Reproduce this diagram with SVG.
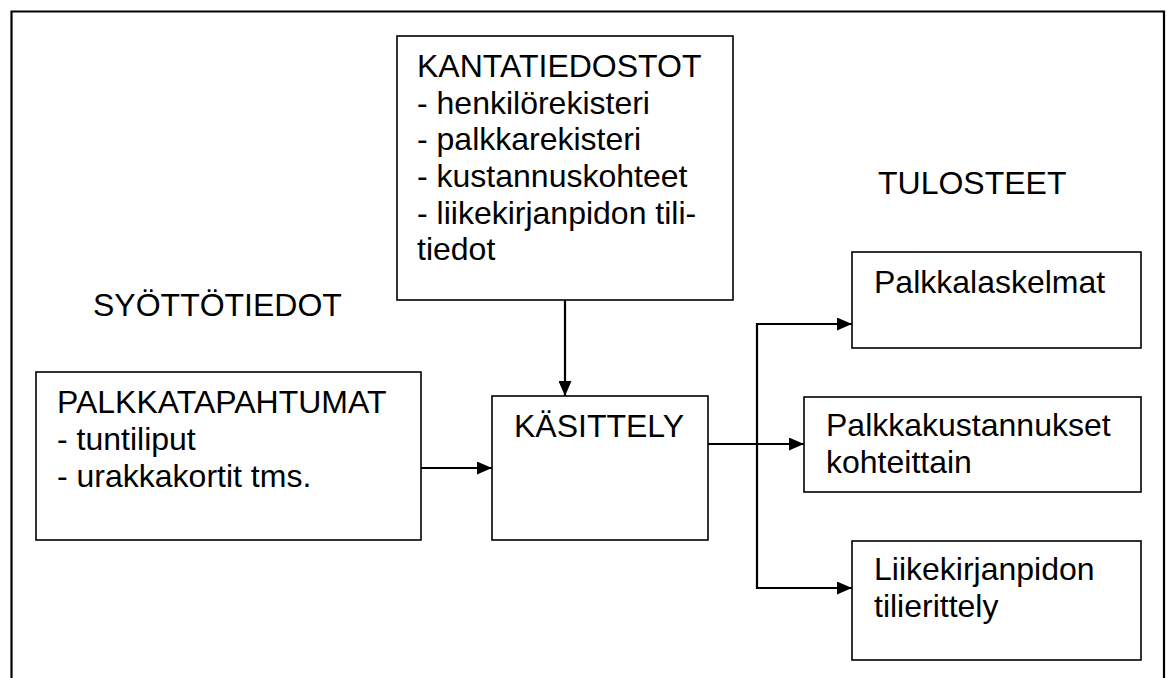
<svg xmlns="http://www.w3.org/2000/svg" width="1168" height="678" viewBox="0 0 1168 678">
<style>
.box{fill:#fff;stroke:#000;stroke-width:1.6}
.frame{fill:none;stroke:#000;stroke-width:2.2}
.t{font-family:"Liberation Sans",Arial,sans-serif;font-size:32px;fill:#000}
.c{fill:none;stroke:#000;stroke-width:2.2}
</style>
<defs>
<marker id="ah" viewBox="0 0 15 13" refX="15" refY="6.5" markerWidth="15" markerHeight="13" markerUnits="userSpaceOnUse" orient="auto">
<path d="M0,0 L15,6.5 L0,13 Z" fill="#000"/>
</marker>
</defs>
<rect width="1168" height="678" fill="#fff"/>
<path class="frame" d="M11.5,680 V11.5 H1164 V680"/>
<text class="t" x="93" y="316">SYÖTTÖTIEDOT</text>
<text class="t" x="878" y="194">TULOSTEET</text>
<g id="kantatiedostot">
<rect class="box" x="397" y="36" width="336" height="264"/>
<text class="t" x="417" y="77">KANTATIEDOSTOT</text>
<text class="t" x="417" y="113.7">- henkilörekisteri</text>
<text class="t" x="417" y="150.4">- palkkarekisteri</text>
<text class="t" x="417" y="187">- kustannuskohteet</text>
<text class="t" x="417" y="223.7">- liikekirjanpidon tili-</text>
<text class="t" x="417" y="260.4">tiedot</text>
</g>
<g id="palkkatapahtumat">
<rect class="box" x="36" y="372" width="385" height="168"/>
<text class="t" x="57" y="413">PALKKATAPAHTUMAT</text>
<text class="t" x="57" y="450">- tuntiliput</text>
<text class="t" x="57" y="487">- urakkakortit tms.</text>
</g>
<g id="kasittely">
<rect class="box" x="492" y="396" width="216" height="144"/>
<text class="t" x="514" y="437">KÄSITTELY</text>
</g>
<g id="palkkalaskelmat">
<rect class="box" x="852" y="252" width="289" height="96"/>
<text class="t" x="874" y="293">Palkkalaskelmat</text>
</g>
<g id="palkkakustannukset">
<rect class="box" x="804" y="397" width="337" height="95"/>
<text class="t" x="826" y="436">Palkkakustannukset</text>
<text class="t" x="826" y="473">kohteittain</text>
</g>
<g id="liikekirjanpidon">
<rect class="box" x="852" y="541" width="289" height="119"/>
<text class="t" x="874" y="580">Liikekirjanpidon</text>
<text class="t" x="874" y="617">tilierittely</text>
</g>
<g id="connectors">
<path class="c" d="M565,300 V396" marker-end="url(#ah)"/>
<path class="c" d="M421,468 H492" marker-end="url(#ah)"/>
<path class="c" d="M708,444 H804" marker-end="url(#ah)"/>
<path class="c" d="M852,324 H757 V588 H852" marker-end="url(#ah)"/>
<path class="c" d="M757,324 H852" marker-end="url(#ah)"/>
</g>
</svg>
